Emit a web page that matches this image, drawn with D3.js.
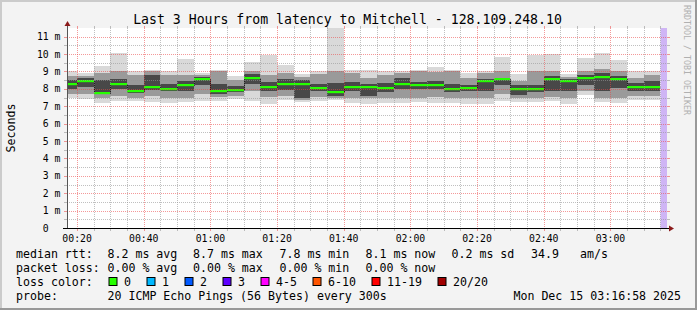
<!DOCTYPE html>
<html><head><meta charset="utf-8">
<script src="https://cdn.jsdelivr.net/npm/d3@7"></script>
<style>
html,body{margin:0;padding:0;background:#f3f3f3;}
svg{display:block;}
text{font-family:"DejaVu Sans Mono",monospace;}
</style></head><body>
<svg id="c" width="697" height="310"></svg>
<script>
// ---- data ----
const binEnds = ["00:20","00:25","00:30","00:35","00:40","00:45","00:50","00:55","01:00","01:05","01:10","01:15",
  "01:20","01:25","01:30","01:35","01:40","01:45","01:50","01:55","02:00","02:05","02:10","02:15",
  "02:20","02:25","02:30","02:35","02:40","02:45","02:50","02:55","03:00","03:05","03:10","03:15"];
const median = [8.29,8.48,7.79,8.29,7.86,8.12,8.01,8.25,8.59,7.90,7.96,8.65,
  8.13,8.29,8.29,8.07,7.84,8.13,8.13,8.07,8.29,8.21,8.24,8.02,
  8.07,8.44,8.54,8.02,8.02,8.55,8.47,8.60,8.69,8.54,8.12,8.12];
const pingMax = [9.0,8.9,9.29,10.09,9.0,9.06,9.04,9.69,8.94,9.08,8.72,9.52,
  9.96,9.35,8.85,9.01,11.6,9.1,9.1,9.0,9.04,9.1,9.23,9.06,
  8.94,9.04,9.86,8.85,9.92,9.99,8.85,9.76,10.07,9.67,9.04,9.04];
const pingMin = [7.5,7.43,7.18,7.32,7.28,7.24,7.18,7.24,7.32,7.28,7.43,7.3,
  7.14,7.37,7.24,7.3,7.38,7.18,7.12,7.18,7.18,7.24,7.18,7.18,
  7.12,7.12,7.32,7.24,7.24,7.32,7.12,7.62,7.24,7.18,7.37,7.37];
const p90 = [8.75,8.75,8.9,9.0,8.8,9.0,8.8,8.8,8.8,9.0,8.5,9.0,
  8.8,8.9,8.7,8.85,9.0,8.9,8.6,8.8,8.9,9.0,8.95,9.0,
  8.6,8.9,9.05,8.45,9.05,9.0,8.7,9.05,9.15,9.05,8.6,8.8];
const p75 = [8.5,8.6,8.5,8.55,8.2,8.8,8.3,8.45,8.7,8.3,8.15,8.85,
  8.4,8.55,8.5,8.3,8.35,8.4,8.3,8.35,8.6,8.4,8.45,8.3,
  8.25,8.55,8.65,8.2,8.2,8.75,8.55,8.8,8.9,8.75,8.35,8.45];
const p25 = [8.0,8.1,7.7,8.0,7.75,7.95,7.85,7.85,8.2,7.7,7.8,8.3,
  7.9,7.95,7.5,7.85,7.6,7.9,7.6,7.8,8.0,8.0,8.0,7.8,
  7.85,7.9,8.2,7.65,7.8,7.85,7.85,8.2,7.85,8.05,7.85,7.9];
const p10 = [7.7,7.7,7.5,7.6,7.45,7.6,7.5,7.5,7.7,7.55,7.6,7.85,
  7.55,7.6,7.35,7.55,7.45,7.5,7.45,7.5,7.5,7.5,7.55,7.5,
  7.45,7.45,7.7,7.45,7.5,7.55,7.45,7.85,7.5,7.5,7.6,7.6];
const yTicks = [0,1,2,3,4,5,6,7,8,9,10,11];
const yTickLabels = ["0  ","1 m","2 m","3 m","4 m","5 m","6 m","7 m","8 m","9 m","10 m","11 m"];
const legendRtt = ["8.2 ms avg","8.7 ms max","7.8 ms min","8.1 ms now","0.2 ms sd","34.9","am/s"];
const legendLoss = ["0.00 % avg","0.00 % max","0.00 % min","0.00 % now"];
const lossLabels = ["0","1","2","3","4-5","6-10","11-19","20/20"];
const lossColors = ["#26ff00","#00b8ff","#0059ff","#5e00ff","#ff00ff","#ff5500","#ff0000","#a10000"];
const title = "Last 3 Hours from latency to Mitchell - 128.109.248.10";
const probeText = "20 ICMP Echo Pings (56 Bytes) every 300s";
const dateText = "Mon Dec 15 03:16:58 2025";

// ---- layout ----
const W=697,H=310, X0=67, X1=667, Y0=228, Y1=28;
const day = (h,m,s)=>new Date(Date.UTC(2025,11,15,h,m,s||0));
const t0 = day(0,16,58), t1 = day(3,16,58);
const x = d3.scaleUtc().domain([t0,t1]).range([X0,X1]);
const y = d3.scaleLinear().domain([0,11.5]).range([Y0,Y1]);
const ends = binEnds.map(s=>{const [h,m]=s.split(":").map(Number);return day(h,m);});
const starts = ends.map(e=>new Date(e.getTime()-300000));

const svg = d3.select("#c");
svg.append("rect").attr("width",W).attr("height",H).attr("fill","#f3f3f3");
svg.append("rect").attr("x",0).attr("y",0).attr("width",W).attr("height",2).attr("fill","#cbcbcb");
svg.append("rect").attr("x",0).attr("y",0).attr("width",2).attr("height",H).attr("fill","#cbcbcb");
svg.append("rect").attr("x",0).attr("y",H-2).attr("width",W).attr("height",2).attr("fill","#999");
svg.append("rect").attr("x",W-2).attr("y",0).attr("width",2).attr("height",H).attr("fill","#999");

svg.append("text").attr("x",347.5).attr("y",24).attr("text-anchor","middle")
  .style("font-size","13.2px").attr("fill","#000").text(title);

svg.append("rect").attr("x",X0).attr("y",Y1).attr("width",X1-X0).attr("height",Y0-Y1).attr("fill","#fff");

svg.append("clipPath").attr("id","cp").append("rect")
  .attr("x",X0).attr("y",Y1).attr("width",X1-X0).attr("height",Y0-Y1);
const g = svg.append("g").attr("clip-path","url(#cp)");

const bands = [[pingMin,pingMax,"#d9d9d9"],[p10,p90,"#9a9a9a"],[p25,p75,"#484848"]];
bands.forEach(([lo,hi,col])=>{
  g.selectAll(null).data(ends).enter().append("rect")
    .attr("x",(d,i)=>Math.max(X0,x(starts[i])))
    .attr("width",(d,i)=>x(ends[i])-Math.max(X0,x(starts[i])))
    .attr("y",(d,i)=>y(hi[i]))
    .attr("height",(d,i)=>y(lo[i])-y(hi[i]))
    .attr("fill",col).attr("shape-rendering","crispEdges");
});
// median step line
const pts=[];
ends.forEach((e,i)=>{pts.push([Math.max(X0,x(starts[i])),median[i]]);pts.push([x(e),median[i]]);});
g.append("path").attr("d",d3.line().x(d=>Math.round(d[0])+0.5).y(d=>Math.round(y(d[1]))+0.5)(pts))
  .attr("fill","none").attr("stroke","#202020").attr("stroke-width",1);
g.selectAll(null).data(ends).enter().append("rect")
  .attr("x",(d,i)=>Math.round(Math.max(X0,x(starts[i]))))
  .attr("width",(d,i)=>Math.round(x(ends[i]))-Math.round(Math.max(X0,x(starts[i]))))
  .attr("y",(d,i)=>Math.round(y(median[i]))-1).attr("height",2.2)
  .attr("fill",lossColors[0]);
// unknown (purple) area
const lastEnd = ends[ends.length-1];
g.append("rect").attr("x",x(lastEnd)).attr("width",X1-x(lastEnd)).attr("y",Y1).attr("height",Y0-Y1)
  .attr("fill","#cfb5f5");

// grid
const minorCol="rgba(150,150,150,0.6)", majorCol="rgba(235,70,70,0.55)";
const vt = d3.utcMinute.every(5).range(t0,t1);
vt.forEach(t=>{
  const major = t.getUTCMinutes()%20===0;
  const px = Math.round(x(t))+0.5, col = major?majorCol:minorCol;
  svg.append("line").attr("x1",px).attr("x2",px).attr("y1",Y1).attr("y2",Y0)
    .attr("stroke",col).attr("stroke-dasharray","1,1");
  svg.append("line").attr("x1",px).attr("x2",px).attr("y1",Y0).attr("y2",Y0+3).attr("stroke",col);
  svg.append("line").attr("x1",px).attr("x2",px).attr("y1",Y1-2).attr("y2",Y1).attr("stroke",col);
});
d3.range(1,23).map(k=>k*0.5).forEach(v=>{
  const major = Number.isInteger(v);
  const py = Math.round(y(v))+0.5, col = major?majorCol:minorCol;
  svg.append("line").attr("x1",X0).attr("x2",X1).attr("y1",py).attr("y2",py)
    .attr("stroke",col).attr("stroke-dasharray","1,1");
  svg.append("line").attr("x1",X0-3).attr("x2",X0).attr("y1",py).attr("y2",py).attr("stroke",col);
  svg.append("line").attr("x1",X1).attr("x2",X1+3).attr("y1",py).attr("y2",py).attr("stroke",col);
});

// axes
svg.append("line").attr("x1",X0+0.5).attr("x2",X0+0.5).attr("y1",Y0).attr("y2",24).attr("stroke","#555");
svg.append("line").attr("x1",X0-4).attr("x2",670).attr("y1",Y0+0.5).attr("y2",Y0+0.5).attr("stroke","#000");
svg.append("path").attr("d",`M${X0-2.5},26 L${X0+0.5},21 L${X0+3.5},26 Z`).attr("fill","#8b1a1a");
svg.append("path").attr("d",`M669,${Y0-2.5} L674,${Y0+0.5} L669,${Y0+3.5} Z`).attr("fill","#8b1a1a");

// tick labels
svg.selectAll(null).data(yTicks).enter().append("text")
  .attr("x",60.5).attr("y",d=>y(d)+3.6).attr("text-anchor","end")
  .style("font-size","9.8px").style("white-space","pre").attr("fill","#000")
  .text((d,i)=>yTickLabels[i]);
const xt = d3.utcMinute.every(20).range(t0,t1);
svg.selectAll(null).data(xt).enter().append("text")
  .attr("x",d=>x(d)).attr("y",241.5).attr("text-anchor","middle")
  .style("font-size","9.8px").attr("fill","#000").text(d3.utcFormat("%H:%M"));

// y title
svg.append("text").attr("transform","translate(15,128) rotate(-90)").attr("text-anchor","middle")
  .style("font-size","11.6px").attr("fill","#000").text("Seconds");
// watermark
svg.append("text").attr("transform","translate(684,5) rotate(90)").attr("text-anchor","start")
  .style("font-size","8.3px").attr("fill","#b0b0b0").text("RRDTOOL / TOBI OETIKER");

// legend
const fs="11.6px", cw=7;
const rows=[258,272,286,300];
const lt=(xx,yy,s,anchor)=>svg.append("text").attr("x",xx).attr("y",yy).attr("text-anchor",anchor||"start")
  .style("font-size",fs).style("white-space","pre").attr("fill","#000").text(s);
lt(16,rows[0],"median rtt:");
const rttX=[107.5,193,279.5,365.5,451.5,531,580];
legendRtt.forEach((s,i)=>lt(rttX[i],rows[0],s));
lt(16,rows[1],"packet loss:");
legendLoss.forEach((s,i)=>lt(rttX[i],rows[1],s));
lt(16,rows[2],"loss color:");
let cx=108.5;
lossLabels.forEach((s,i)=>{
  svg.append("rect").attr("x",cx+0.5).attr("y",rows[2]-8.5).attr("width",8).attr("height",8)
    .attr("fill",lossColors[i]).attr("stroke","#000").attr("stroke-width",1);
  lt(cx+15.5,rows[2],s);
  cx = cx+15.5+s.length*cw+15.5;
});
lt(16,rows[3],"probe:");
lt(107.5,rows[3],probeText);
lt(681,rows[3],dateText,"end");
</script>
</body></html>
